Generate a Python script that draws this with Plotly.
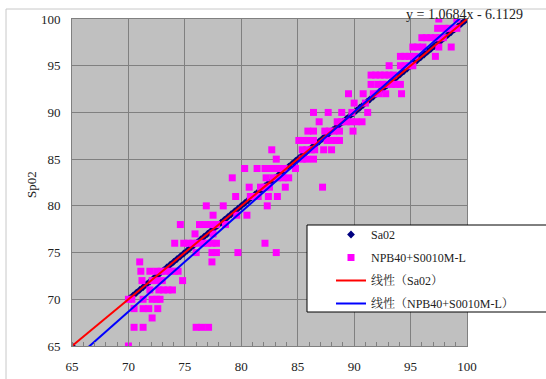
import plotly.graph_objects as go

# ---------------- data ----------------
# Sa02 series (reference vs itself)
sa02_x = [65.0, 70.1, 70.4, 70.7, 71.0, 71.3, 71.6, 71.9, 72.2, 72.5, 72.8, 73.1, 73.4, 73.7,
          74.0, 74.3, 74.6, 74.9, 75.2, 75.5, 75.8, 76.1, 76.4, 76.7, 77.0, 77.3, 77.6, 77.9,
          78.2, 78.5, 78.8, 79.1, 79.4, 79.7, 80.0, 80.3, 80.6, 80.9, 81.2, 81.5, 81.8, 82.1,
          82.4, 82.7, 83.0, 83.3, 83.6, 83.9, 84.2, 84.5, 84.8, 85.1, 85.4, 85.7, 86.0, 86.3,
          86.6, 86.9, 87.2, 87.5, 87.8, 88.1, 88.4, 88.7, 89.0, 89.3, 89.6, 89.9, 90.2, 90.5,
          90.8, 91.1, 91.4, 91.7, 92.0, 92.3, 92.6, 92.9, 93.2, 93.5, 93.8, 94.1, 94.4, 94.7,
          95.0, 95.3, 95.6, 95.9, 96.2, 96.5, 96.8, 97.1, 97.4, 97.7, 98.0, 98.3, 98.6, 98.9,
          99.2, 99.5, 99.8, 100.0]
sa02_y = [65.0, 70.1, 70.4, 70.7, 71.0, 71.3, 71.6, 71.9, 72.2, 72.5, 72.8, 73.1, 73.4, 73.7,
          74.0, 74.3, 74.6, 74.9, 75.2, 75.5, 75.8, 76.1, 76.4, 76.7, 77.0, 77.3, 77.6, 77.9,
          78.2, 78.5, 78.8, 79.1, 79.4, 79.7, 80.0, 80.3, 80.6, 80.9, 81.2, 81.5, 81.8, 82.1,
          82.4, 82.7, 83.0, 83.3, 83.6, 83.9, 84.2, 84.5, 84.8, 85.1, 85.4, 85.7, 86.0, 86.3,
          86.6, 86.9, 87.2, 87.5, 87.8, 88.1, 88.4, 88.7, 89.0, 89.3, 89.6, 89.9, 90.2, 90.5,
          90.8, 91.1, 91.4, 91.7, 92.0, 92.3, 92.6, 92.9, 93.2, 93.5, 93.8, 94.1, 94.4, 94.7,
          95.0, 95.3, 95.6, 95.9, 96.2, 96.5, 96.8, 97.1, 97.4, 97.7, 98.0, 98.3, 98.6, 98.9,
          99.2, 99.5, 99.8, 100.0]

# NPB40+S0010M-L readings: SpO2 value -> SaO2 values
npb_rows = {
    65: [70.0],
    67: [70.5, 71.3, 76.0, 76.5, 77.1],
    68: [72.1],
    69: [70.5, 71.3, 71.8, 72.6],
    70: [70.0, 70.3, 71.3, 72.1, 72.5, 72.8],
    71: [71.9, 72.7, 73.1, 73.5, 73.9],
    72: [71.2, 72.1, 72.5, 73.0, 74.8],
    73: [71.1, 71.9, 72.5, 72.9, 73.3, 73.7, 74.1, 74.4],
    74: [71.0, 77.4],
    75: [76.0, 77.4, 77.8, 79.7, 83.1],
    76: [74.1, 74.9, 75.3, 75.7, 76.1, 76.6, 77.0, 77.4, 77.8, 82.1],
    77: [75.9, 77.5],
    78: [74.6, 76.3, 76.8, 77.3, 77.8, 78.6],
    79: [77.5, 79.6, 80.5],
    80: [76.9, 78.4, 82.3],
    81: [79.5, 80.8, 81.2, 81.5, 82.4, 83.2],
    82: [80.7, 81.7, 82.1, 82.5, 83.9, 87.2],
    83: [79.2, 82.2, 82.8, 83.2, 83.7, 84.2],
    84: [80.3, 81.4, 82.1, 82.5, 82.9, 83.3, 83.8, 84.8],
    85: [83.1, 85.4, 85.8, 86.4],
    86: [82.7, 85.4, 85.8, 86.2, 86.5, 87.3, 88.0],
    87: [85.1, 85.5, 85.9, 86.4, 87.6, 88.0, 88.4, 88.7],
    88: [85.9, 86.4, 87.4, 87.8, 88.2, 88.7, 89.9],
    89: [86.9, 88.5, 88.9, 89.3, 89.7, 90.2, 90.7],
    90: [86.4, 87.7, 88.9, 89.8, 91.2],
    91: [90.0, 91.0],
    92: [89.5, 90.8, 91.7, 92.2, 92.8, 94.2],
    93: [91.5, 92.1, 92.5, 92.9, 93.3, 93.7, 94.1],
    94: [91.5, 91.9, 92.3, 92.7, 93.1, 93.5],
    95: [93.1, 94.1, 94.5, 94.9, 95.2],
    96: [94.1, 94.5, 94.9, 95.4, 97.2],
    97: [95.2, 95.6, 96.1, 97.5, 98.6],
    98: [96.0, 96.4, 96.8, 97.2, 97.6, 97.9],
    99: [97.4, 98.0, 98.4, 98.8, 99.1],
    100: [97.5, 99.1],
}

# linear trendlines (slope, intercept)
trend_names = ["线性（Sa02）", "线性（NPB40+S0010M-L）"]
trend_slope = [1.0, 1.0684]
trend_intercept = [0.0, -6.1129]
trend_colors = ["#FF0000", "#0000FF"]

x_ticks = [65, 70, 75, 80, 85, 90, 95, 100]
y_ticks = [65, 70, 75, 80, 85, 90, 95, 100]
equation_text = "y = 1.0684x - 6.1129"

# ---------------- figure ----------------
npb_x, npb_y = [], []
for yv, xs in npb_rows.items():
    for xv in xs:
        npb_x.append(xv)
        npb_y.append(yv)

FONT = "Liberation Serif, Noto Serif CJK SC, Noto Sans CJK SC, serif"
L, R, T, B = 72, 467, 19, 346
W, H = R - L, B - T


def px(v):
    return (v - L) / W


def py(v):
    return (B - v) / H


fig = go.Figure()
fig.add_trace(go.Scatter(
    x=sa02_x, y=sa02_y, mode="markers", name="Sa02", legendgroup="a",
    marker=dict(symbol="diamond", size=6, color="#000080", line=dict(width=0)),
))
fig.add_trace(go.Scatter(
    x=npb_x, y=npb_y, mode="markers", name="NPB40+S0010M-L", legendgroup="b",
    marker=dict(symbol="square", size=7, color="#FF00FF", line=dict(width=0)),
))
x_end = [65.0, 100.0]
for i, (name, m, b, c) in enumerate(zip(trend_names, trend_slope, trend_intercept, trend_colors)):
    fig.add_trace(go.Scatter(
        x=x_end, y=[m * v + b for v in x_end], mode="lines", name=name, legendgroup="c%d" % i,
        line=dict(color=c, width=2),
    ))

axis_common = dict(
    range=[65, 100], showgrid=True, gridcolor="#808080", gridwidth=1,
    showline=True, linecolor="#808080", linewidth=1, mirror=True, automargin=False,
    zeroline=False, ticks="", tickfont=dict(family=FONT, size=13, color="#222222"),
)
fig.update_xaxes(**axis_common, tickvals=x_ticks, ticklabelstandoff=8,
                 minor=dict(ticks="inside", ticklen=4, tickcolor="#808080", dtick=1, showgrid=False))
fig.update_yaxes(**axis_common, tickvals=y_ticks, ticklabelstandoff=8)

fig.add_annotation(text="Sp02", xref="paper", yref="paper", x=px(31), y=py(185),
                   xanchor="center", yanchor="middle", textangle=-90, showarrow=False,
                   font=dict(family=FONT, size=13, color="#222222"))
fig.add_annotation(text=equation_text, xref="paper", yref="paper", x=px(404),
                   y=py(14), xanchor="left", yanchor="middle", showarrow=False,
                   font=dict(family=FONT, size=14, color="#222222"))
fig.add_annotation(text="Sa02", xref="paper", yref="paper", x=px(269),
                   y=py(383), xanchor="center", yanchor="middle", showarrow=False,
                   font=dict(family=FONT, size=13, color="#222222"))

# outer chart border
fig.add_shape(type="rect", xref="paper", yref="paper", x0=px(6), x1=px(560),
              y0=py(390), y1=py(9), line=dict(color="#C8C8C8", width=1), layer="below")
# legend box
fig.add_shape(type="rect", xref="paper", yref="paper", x0=px(307), x1=px(560),
              y0=py(312), y1=py(225), line=dict(color="#000000", width=1),
              fillcolor="white", layer="above")

fig.update_layout(
    width=546, height=379,
    margin=dict(l=L, r=546 - R, t=T, b=379 - B, autoexpand=False),
    paper_bgcolor="white", plot_bgcolor="#C0C0C0",
    showlegend=True,
    legend=dict(x=px(331), y=py(220), xanchor="left", yanchor="top",
                bgcolor="rgba(0,0,0,0)", borderwidth=0,
                font=dict(family=FONT, size=12, color="#222222"),
                tracegroupgap=4, itemwidth=30),
    font=dict(family=FONT),
)

fig.write_html("out.html", config={"displayModeBar": False},
               post_script="document.body.style.margin='0';document.body.style.overflow='hidden';")
